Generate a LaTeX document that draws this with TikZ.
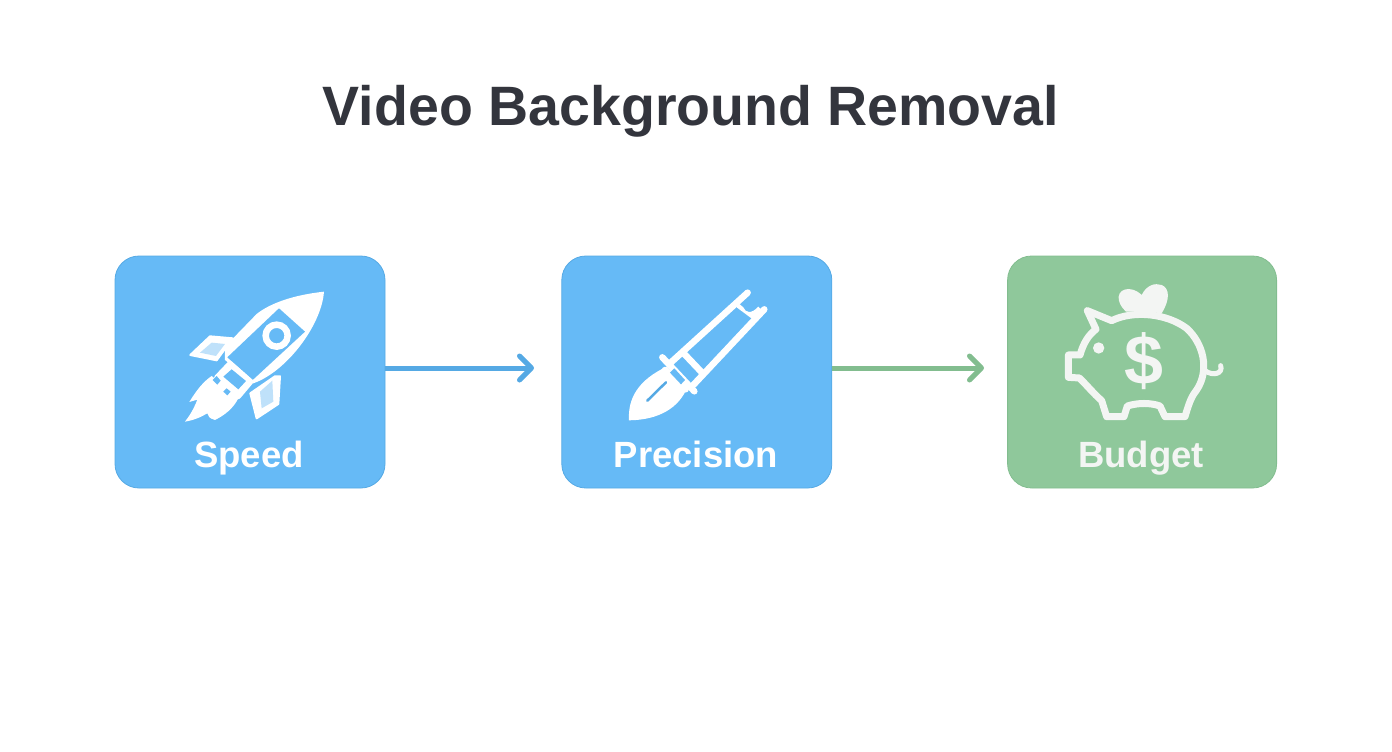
\documentclass[tikz,border=0pt]{standalone}
\usepackage{fontspec}
\setmainfont{Liberation Sans}
\usetikzlibrary{positioning,arrows.meta}
\definecolor{tileblue}{HTML}{66BAF6}
\definecolor{tileblueedge}{HTML}{55A9E4}
\definecolor{tilegreen}{HTML}{8FC89B}
\definecolor{tilegreenedge}{HTML}{82BD8F}
\definecolor{finblue}{HTML}{BFE1FA}
\definecolor{titleink}{HTML}{33353D}
\definecolor{pigwhite}{HTML}{F3F5F3}

\begin{document}
\begin{tikzpicture}[x=1pt, y=-1pt,
    tile/.style={draw, line width=0.8pt, rectangle, rounded corners=24pt, minimum width=270pt, minimum height=232pt},
    tile label/.style={font=\bfseries\fontsize{36.5}{40}\selectfont, text=white, anchor=base},
    flow/.style={-{Straight Barb[length=12pt, width=24pt, round]}, line width=5pt},
    icon/.style={shift={(#1,250)}, x=0.3333pt, y=-0.3333pt}]
    \useasboundingbox (0,0) rectangle (1392,752);

    \node[font=\bfseries\fontsize{55.5}{60}\selectfont, text=titleink, anchor=base] (title) at (691,125) {Video Background Removal};

    \node[tile, fill=tileblue, draw=tileblueedge] (speed) at (250,372) {};
    \node[tile, fill=tileblue, draw=tileblueedge, right=176pt of speed] (precision) {};
    \node[tile, fill=tilegreen, draw=tilegreenedge, right=175pt of precision, minimum width=269pt] (budget) {};

    \node[tile label] (speedtext) at (249,467) {Speed};
    \node[tile label] (precisiontext) at (696,467) {Precision};
    \node[tile label, text=pigwhite] (budgettext) at (1141,467) {Budget};

    \coordinate (speedend) at (534,368);
    \coordinate (precisionend) at (984,368);
    \draw[flow, tileblueedge] (speed.east |- speedend) -- (speedend);
    \draw[flow, tilegreenedge] (precision.east |- precisionend) -- (precisionend);

    % rocket
    \begin{scope}[icon=110]
        \draw[white, fill=white, line width=2pt, line join=round] (241,315) -- (300,259) -- (368,265) -- (320,331) -- cycle;
        \fill[finblue] (270,308) -- (305,278) -- (345,282) -- (318,318) -- cycle;
        \draw[white, fill=white, line width=2pt, line join=round] (421,430) -- (495,379) -- (510,379) -- (505,462) -- (440,505) -- cycle;
        \fill[finblue] (450,425) -- (487,392) -- (490,455) -- (455,475) -- cycle;
        \fill[white] (642,125) .. controls (550,135) and (480,160) .. (440,192) -- (345,290)
            -- (345,330) -- (430,400) .. controls (530,365) and (635,225) .. (642,125) -- cycle;
        \fill[tileblue] (507,175) -- (585,245) -- (428,390) -- (352,322) -- cycle;
        \fill[white] (305,378) .. controls (280,395) and (260,420) .. (238,456) -- (262,449)
            .. controls (250,480) and (238,498) .. (225,515) .. controls (255,510) and (275,500) .. (292,490)
            .. controls (295,500) and (298,505) .. (315,510) .. controls (345,495) and (370,475) .. (385,445) -- cycle;
        \draw[white, line width=5pt, fill=white, line join=round] (360,340) -- (423,395) -- (385,440) -- (320,382) -- cycle;
        \fill[tileblue] (365,358) -- (408,393) -- (385,418) -- (340,380) -- cycle;
        \fill[tileblue] (320,378) -- (332,392) -- (322,404) -- (308,390) -- cycle;
        \fill[tileblue] (350,415) -- (362,425) -- (352,436) -- (340,425) -- cycle;
        \draw[white, line width=6.5pt] (500,257) circle[radius=33];
    \end{scope}

    % pen
    \begin{scope}[icon=555]
        \fill[white] (222,511) .. controls (218,445) and (250,390) .. (335,350) -- (398,410)
            .. controls (372,475) and (310,510) .. (222,511) -- cycle;
        \draw[tileblueedge, line width=2.5pt, line cap=round] (277,452) -- (333,397);
        \begin{scope}[white, line width=6.5pt, line cap=round]
            \draw (322,322) -- (418,424);
            \draw (345,340) -- (578,128);
            \draw (415,405) -- (628,178);
            \draw (388,312) -- (445,372);
            \draw (330,360) -- (392,418);
        \end{scope}
        \fill[tileblue] (345,368) -- (358,355) -- (390,390) -- (378,403) -- cycle;
        \fill[white] (545,155) -- (565,172) .. controls (572,190) and (590,192) .. (610,170) -- (625,185) -- (592,207) -- (545,172) -- cycle;
    \end{scope}

    % piggy bank
    \begin{scope}[icon=1000]
        \fill[pigwhite] (378,185) .. controls (345,155) and (350,118) .. (385,117)
            .. controls (405,117) and (420,130) .. (425,135) .. controls (440,105) and (465,98) .. (485,105)
            .. controls (510,115) and (510,150) .. (485,190) .. controls (450,185) and (410,185) .. (378,185) -- cycle;
        \draw[pigwhite, line width=7pt, line join=round, line cap=round]
            (262,182) -- (335,212) .. controls (400,180) and (500,190) .. (560,235)
            .. controls (610,280) and (630,360) .. (590,420) .. controls (575,440) and (570,450) .. (555,500)
            -- (495,500) -- (480,468) .. controls (450,458) and (415,458) .. (382,468) -- (372,500) -- (320,500)
            -- (305,452) .. controls (280,430) and (260,405) .. (238,384) -- (205,382) -- (205,315) -- (240,315)
            .. controls (250,280) and (265,255) .. (288,238) -- cycle;
        \draw[pigwhite, line width=5pt, line cap=round] (615,362) .. controls (640,380) and (670,370) .. (662,347);
        \fill[pigwhite] (296,294) circle[radius=17];
        \node[font=\bfseries\fontsize{70}{70}\selectfont, text=pigwhite] (dollar) at (432,333) {\$};
    \end{scope}
\end{tikzpicture}
\end{document}
